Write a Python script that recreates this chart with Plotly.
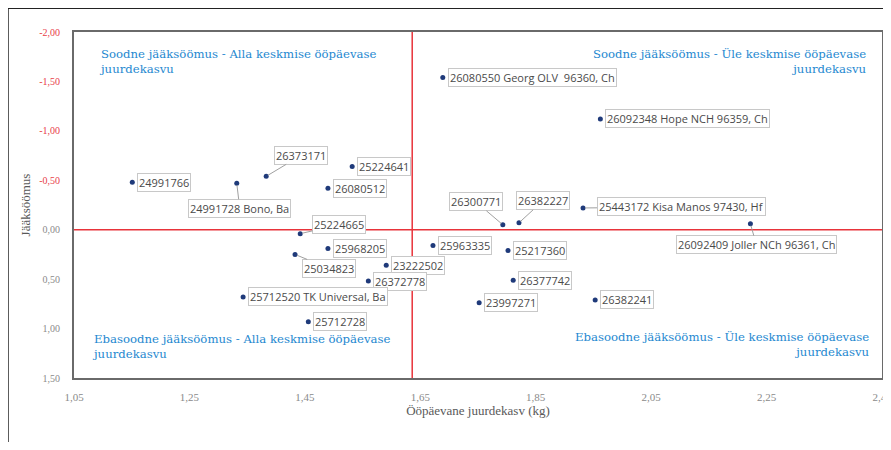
import plotly.graph_objects as go

# ---- data ----
labels = [
    "26080550 Georg OLV  96360, Ch", "26092348 Hope NCH 96359, Ch", "25443172 Kisa Manos 97430, Hf",
    "26300771", "26382227", "26092409 Joller NCh 96361, Ch",
    "24991766", "24991728 Bono, Ba", "26373171", "25224641", "26080512",
    "25224665", "25968205", "25034823", "23222502", "26372778",
    "25712520 TK Universal, Ba", "25712728", "25963335", "25217360",
    "26377742", "23997271", "26382241",
]
daily_gain = [1.689, 1.962, 1.932, 1.793, 1.821, 2.222,
              1.151, 1.332, 1.383, 1.532, 1.490,
              1.442, 1.490, 1.433, 1.591, 1.560,
              1.343, 1.456, 1.672, 1.802,
              1.811, 1.752, 1.953]
residual_feed = [-1.54, -1.12, -0.22, -0.05, -0.07, -0.06,
                 -0.48, -0.47, -0.54, -0.64, -0.42,
                 0.04, 0.19, 0.25, 0.36, 0.52,
                 0.68, 0.93, 0.16, 0.21,
                 0.51, 0.74, 0.71]
mean_gain = 1.636
mean_residual = 0.0

x_ticks = [1.05, 1.25, 1.45, 1.65, 1.85, 2.05, 2.25, 2.45]
x_tick_text = ["1,05", "1,25", "1,45", "1,65", "1,85", "2,05", "2,25", "2,45"]
y_ticks = [-2.0, -1.5, -1.0, -0.5, 0.0, 0.5, 1.0, 1.5]
y_tick_text = ["-2,00", "-1,50", "-1,00", "-0,50", "0,00", "0,50", "1,00", "1,50"]

quadrant_texts = [
    "Soodne jääksöömus - Alla keskmise ööpäevase<br>juurdekasvu",
    "Soodne jääksöömus - Üle keskmise ööpäevase<br>juurdekasvu",
    "Ebasoodne jääksöömus - Alla keskmise ööpäevase<br>juurdekasvu",
    "Ebasoodne jääksöömus - Üle keskmise ööpäevase<br>juurdekasvu",
]

# ---- label placement (styling: pixel offsets for leader-line labels) ----
leader = {
    "24991728 Bono, Ba": (3, 25),
    "26373171": (35, -21),
    "25224665": (39, -9),
    "25034823": (34, 14),
    "25443172 Kisa Manos 97430, Hf": (98, -1),
    "26300771": (-27, -23),
    "26382227": (24, -22),
    "26092409 Joller NCh 96361, Ch": (6, 21),
}

fig = go.Figure()
fig.add_trace(go.Scatter(
    x=daily_gain, y=residual_feed, mode="markers",
    marker=dict(size=5, color="#1f3a7a"), hoverinfo="skip", showlegend=False))

lab_font = dict(family="Open Sans", size=11, color="#4a4a4a")
ann = []
for lx, ly, lt in zip(daily_gain, residual_feed, labels):
    if lt in leader:
        ax, ay = leader[lt]
        ann.append(dict(x=lx, y=ly, text=lt, showarrow=True, ax=ax, ay=ay,
                        arrowhead=0, arrowwidth=1, arrowcolor="#a0a0a0", standoff=2,
                        font=lab_font, bgcolor="white", bordercolor="#c8c8c8",
                        borderwidth=1, borderpad=1))
    else:
        ann.append(dict(x=lx, y=ly, text=lt, showarrow=False, xanchor="left",
                        yanchor="middle", xshift=5,
                        font=lab_font, bgcolor="white", bordercolor="#c8c8c8",
                        borderwidth=1, borderpad=1))

q_font = dict(family="DejaVu Serif", size=11.7, color="#1e88d0")
ann.append(dict(xref="paper", yref="paper", x=0.028, y=0.962, text=quadrant_texts[0],
                showarrow=False, xanchor="left", yanchor="top", align="left", font=q_font))
ann.append(dict(xref="paper", yref="paper", x=0.984, y=0.962, text=quadrant_texts[1],
                showarrow=False, xanchor="right", yanchor="top", align="right", font=q_font))
ann.append(dict(xref="paper", yref="paper", x=0.02, y=0.14, text=quadrant_texts[2],
                showarrow=False, xanchor="left", yanchor="top", align="left", font=q_font))
ann.append(dict(xref="paper", yref="paper", x=0.988, y=0.145, text=quadrant_texts[3],
                showarrow=False, xanchor="right", yanchor="top", align="right", font=q_font))

y_colored = [
    (f'<span style="color:#e8404a">{t}</span>' if v < 0 else t)
    for v, t in zip(y_ticks, y_tick_text)
]

shapes = [
    dict(type="line", xref="x", yref="paper", x0=mean_gain, x1=mean_gain, y0=0, y1=1,
         line=dict(color="#e8333a", width=1.5)),
    dict(type="line", xref="paper", yref="y", x0=0, x1=1, y0=mean_residual, y1=mean_residual,
         line=dict(color="#e8333a", width=1.5)),
    # outer chart frame
    dict(type="line", xref="paper", yref="paper", x0=-0.0817, x1=1.011, y0=1.069, y1=1.069,
         line=dict(color="#222222", width=1.5)),
    dict(type="line", xref="paper", yref="paper", x0=-0.0817, x1=-0.0817, y0=1.069, y1=-0.2,
         line=dict(color="#222222", width=1.5)),
]

fig.update_layout(
    width=875, height=434,
    margin=dict(l=66, r=1, t=24, b=64, autoexpand=False),
    paper_bgcolor="white", plot_bgcolor="white",
    font=dict(family="Liberation Serif", color="#7f7f7f"),
    annotations=ann, shapes=shapes,
    xaxis=dict(range=[1.05, 2.45], tickvals=x_ticks, ticktext=x_tick_text,
               showgrid=False, zeroline=False, showline=True, mirror=True,
               linecolor="#6a6a6a", linewidth=2, ticks="", ticklabelstandoff=8,
               ticklabeloverflow="allow", automargin=False,
               tickfont=dict(family="Liberation Serif", size=11, color="#8a8a8a"),
               title=dict(text="Ööpäevane juurdekasv (kg)", standoff=4,
                          font=dict(family="Liberation Serif", size=13, color="#595959"))),
    yaxis=dict(range=[1.5, -2.0], tickvals=y_ticks, ticktext=y_colored,
               showgrid=False, zeroline=False, showline=True, mirror=True,
               linecolor="#6a6a6a", linewidth=2, ticks="", ticklabelstandoff=10,
               automargin=False,
               tickfont=dict(family="Liberation Serif", size=10, color="#8a8a8a"),
               title=dict(text="Jääksöömus", standoff=6,
                          font=dict(family="Liberation Serif", size=13, color="#595959"))),
)

fig.write_html("out.html")
